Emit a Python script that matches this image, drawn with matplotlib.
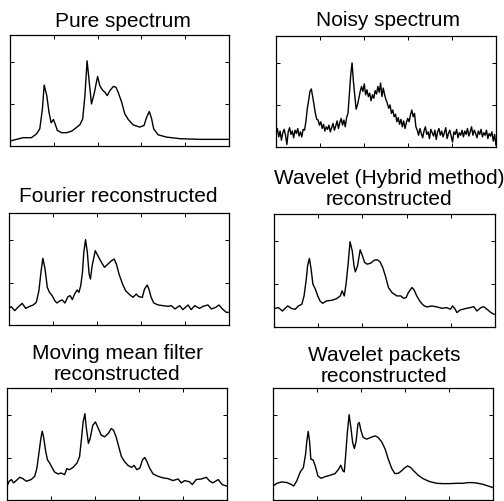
import numpy as np
import matplotlib
matplotlib.use("Agg")
import matplotlib.pyplot as plt

plt.rcParams['font.family'] = ['Liberation Sans', 'DejaVu Sans']

# ---------------- data (channel, intensity) ----------------
pure_x = [0, 30, 49, 61, 68, 74, 78, 84, 89, 94, 99, 103, 108, 118, 129, 141, 152, 160, 166, 171,
          176, 181, 186, 192, 200, 205, 211, 217, 222, 228, 236, 242, 247, 255, 262, 270, 281, 296, 306, 312,
          318, 323, 328, 338, 357, 388, 433, 500]
pure_y = [0.059, 0.099, 0.099, 0.146, 0.205, 0.441, 0.725, 0.599, 0.402, 0.276, 0.315, 0.264, 0.185, 0.158,
          0.158, 0.177, 0.221, 0.256, 0.323, 0.599, 1.013, 0.756, 0.500, 0.619, 0.827, 0.717, 0.666, 0.638,
          0.599, 0.658, 0.709, 0.697, 0.638, 0.520, 0.382, 0.315, 0.252, 0.225, 0.244, 0.343, 0.410, 0.331,
          0.205, 0.134, 0.106, 0.087, 0.079, 0.079]

noisy_y = [0.16, 0.22, 0.12, 0.19, 0.08, 0.17, 0.21, 0.14, 0.03, 0.18, 0.23, 0.15, 0.19, 0.11, 0.20, 0.16,
           0.22, 0.13, 0.18, 0.12, 0.21,
           0.20, 0.30, 0.45, 0.55, 0.66, 0.69, 0.60, 0.50, 0.40, 0.33,
           0.32, 0.26, 0.30, 0.22, 0.27, 0.19, 0.24, 0.21, 0.26, 0.18, 0.23, 0.28, 0.20, 0.25, 0.31, 0.22,
           0.29, 0.34, 0.26, 0.32, 0.24, 0.35,
           0.40, 0.62, 0.85, 1.00, 0.78, 0.62, 0.45, 0.50, 0.58, 0.66,
           0.72, 0.66, 0.75, 0.62, 0.68, 0.60, 0.64, 0.55, 0.62, 0.58, 0.67, 0.63, 0.72, 0.65, 0.76, 0.60,
           0.70, 0.62, 0.56, 0.52,
           0.46, 0.50, 0.40, 0.44, 0.36, 0.39, 0.30, 0.35, 0.27, 0.33, 0.24, 0.31, 0.22, 0.29,
           0.34, 0.30, 0.38, 0.44, 0.36, 0.40, 0.24,
           0.20, 0.14, 0.22, 0.16, 0.11, 0.19, 0.24, 0.15, 0.18, 0.10, 0.21, 0.17, 0.13, 0.20, 0.09, 0.18,
           0.22, 0.14, 0.19, 0.12, 0.17, 0.23, 0.10, 0.16, 0.20, 0.13, 0.06, 0.18, 0.15, 0.21, 0.11, 0.17,
           0.14, 0.20, 0.12, 0.19, 0.15, 0.22, 0.13, 0.18, 0.24, 0.14, 0.20, 0.16, 0.11, 0.19, 0.15, 0.21,
           0.12, 0.17, 0.14, 0.20, 0.10, 0.16, 0.13, 0.18, 0.07, 0.15, 0.02]
noisy_x = np.linspace(0, 500, len(noisy_y))

fourier_x = [0, 5, 13, 20, 30, 38, 47, 55, 62, 68, 73, 77, 82, 87, 92, 98, 104, 109, 115, 121,
             127, 134, 139, 144, 149, 155, 159, 163, 167, 170, 174, 178, 182, 185, 189, 196, 202, 210, 217, 225,
             233, 239, 244, 250, 258, 265, 274, 282, 289, 295, 303, 308, 314, 318, 323, 329, 339, 350, 361, 369,
             377, 388, 395, 407, 414, 422, 433, 441, 452, 460, 470, 477, 485, 494, 500]
fourier_y = [0.196, 0.216, 0.169, 0.208, 0.255, 0.196, 0.220, 0.236, 0.267, 0.405,
             0.640, 0.786, 0.660, 0.444, 0.385, 0.346, 0.287, 0.259, 0.283, 0.295,
             0.259, 0.334, 0.346, 0.299, 0.365, 0.413, 0.385, 0.464, 0.621, 0.857,
             1.006, 0.857, 0.601, 0.542, 0.699, 0.876, 0.817, 0.739, 0.680, 0.719,
             0.758, 0.778, 0.719, 0.601, 0.483, 0.405, 0.358, 0.326, 0.365, 0.334,
             0.326, 0.424, 0.471, 0.424, 0.326, 0.259, 0.236, 0.228, 0.220, 0.228,
             0.189, 0.228, 0.181, 0.236, 0.181, 0.228, 0.196, 0.220, 0.236, 0.189,
             0.208, 0.236, 0.189, 0.149, 0.149]

hybrid_x = [0, 10, 19, 31, 40, 48, 55, 63, 68, 73, 76, 80, 84, 88, 93, 99, 104, 110, 119, 131,
            142, 150, 154, 159, 163, 168, 172, 177, 181, 184, 189, 195, 200, 205, 211, 219, 227, 234, 240, 246,
            252, 259, 267, 278, 287, 293, 299, 304, 312, 317, 323, 331, 338, 346, 357, 369, 380, 391, 399, 404,
            409, 414, 421, 433, 444, 452, 459, 468, 474, 482, 491, 498]
hybrid_y = [0.215, 0.226, 0.187, 0.246, 0.215, 0.207, 0.246, 0.266, 0.363, 0.558,
            0.715, 0.801, 0.676, 0.500, 0.449, 0.363, 0.305, 0.277, 0.305, 0.312,
            0.332, 0.363, 0.422, 0.363, 0.500, 0.754, 0.996, 0.890, 0.715, 0.644,
            0.715, 0.902, 0.832, 0.754, 0.734, 0.746, 0.781, 0.785, 0.761, 0.695,
            0.597, 0.461, 0.402, 0.363, 0.363, 0.336, 0.344, 0.402, 0.461, 0.433,
            0.363, 0.293, 0.254, 0.234, 0.246, 0.234, 0.219, 0.226, 0.207, 0.246,
            0.215, 0.168, 0.199, 0.215, 0.226, 0.238, 0.187, 0.226, 0.238, 0.207,
            0.168, 0.148]

mean_x = [0, 5, 10, 15, 21, 29, 36, 44, 55, 63, 68, 73, 77, 80, 83, 88, 92, 97, 103, 108,
          116, 123, 131, 136, 142, 150, 159, 165, 169, 173, 177, 180, 185, 189, 195, 201, 207, 214, 222, 230,
          237, 242, 248, 255, 260, 267, 275, 283, 289, 295, 302, 308, 313, 318, 324, 332, 343, 355, 366, 377,
          389, 396, 404, 415, 421, 430, 442, 453, 461, 468, 480, 489, 500]
mean_y = [0.163, 0.221, 0.241, 0.202, 0.229, 0.268, 0.252, 0.221, 0.241, 0.280,
          0.377, 0.571, 0.726, 0.811, 0.745, 0.571, 0.474, 0.435, 0.377, 0.330,
          0.307, 0.318, 0.299, 0.369, 0.357, 0.384, 0.435, 0.512, 0.707, 0.920,
          1.017, 0.862, 0.668, 0.726, 0.881, 0.920, 0.850, 0.765, 0.745, 0.784,
          0.842, 0.823, 0.745, 0.609, 0.512, 0.454, 0.408, 0.384, 0.408, 0.357,
          0.377, 0.474, 0.501, 0.454, 0.377, 0.307, 0.280, 0.260, 0.252, 0.229,
          0.248, 0.202, 0.229, 0.214, 0.182, 0.241, 0.248, 0.268, 0.221, 0.202,
          0.241, 0.182, 0.163]

packet_x = [0, 9, 20, 32, 41, 47, 54, 62, 69, 74, 77, 80, 83, 86, 91, 96, 102, 109, 119, 130,
            141, 149, 154, 159, 162, 165, 169, 173, 177, 181, 185, 189, 193, 196, 200, 205, 213, 222, 232, 239,
            247, 255, 262, 270, 277, 285, 292, 300, 306, 313, 320, 330, 341, 356, 372, 387, 402, 417, 432, 443,
            455, 466, 477, 489, 500]
packet_y = [0.165, 0.197, 0.213, 0.205, 0.185, 0.165, 0.225, 0.331, 0.382, 0.540,
            0.697, 0.808, 0.697, 0.481, 0.473, 0.402, 0.284, 0.256, 0.276, 0.292,
            0.311, 0.362, 0.410, 0.343, 0.331, 0.520, 0.796, 1.005, 0.855, 0.678,
            0.607, 0.697, 0.894, 0.914, 0.816, 0.737, 0.717, 0.737, 0.756, 0.737,
            0.686, 0.599, 0.481, 0.370, 0.311, 0.315, 0.343, 0.382, 0.402, 0.382,
            0.343, 0.292, 0.252, 0.217, 0.197, 0.193, 0.193, 0.197, 0.197, 0.205,
            0.205, 0.197, 0.185, 0.165, 0.146]

titles = ["Pure spectrum", "Noisy spectrum", "Fourier reconstructed",
          "Wavelet (Hybrid method)\nreconstructed", "Moving mean filter\nreconstructed",
          "Wavelet packets\nreconstructed"]
xticks = [100, 200, 300, 400]
yticks = [0.5, 1.0]

# ---------------- layout ----------------
W, H = 504, 502
fig = plt.figure(figsize=(W / 100, H / 100), dpi=100)

# axes boxes in pixels: left, top, right, bottom
boxes = [(10, 36, 229, 147), (276, 37, 496, 148),
         (9, 214, 229, 326), (274, 215, 495, 328),
         (7, 389, 227, 501), (273, 389, 493, 501)]
# title: center x, baseline y of last line
title_pos = [(123, 27), (388, 26), (118, 202), (389, 205), (117, 380), (384, 382)]

series = [(pure_x, pure_y), (noisy_x, noisy_y), (fourier_x, fourier_y),
          (hybrid_x, hybrid_y), (mean_x, mean_y), (packet_x, packet_y)]

for (l, t, r, b), (xs, ys), title, (tx, ty) in zip(boxes, series, titles, title_pos):
    ax = fig.add_axes([l / W, 1 - b / H, (r - l) / W, (b - t) / H])
    ax.plot(xs, ys, color='black', lw=1.0)
    ax.set_xlim(0, 500)
    ax.set_ylim(0, 1.32)
    ax.set_xticks(xticks)
    ax.set_yticks(yticks)
    ax.set_xticklabels([])
    ax.set_yticklabels([])
    ax.tick_params(direction='in', length=3, width=0.7, top=True, right=True)
    for s in ax.spines.values():
        s.set_linewidth(0.9)
    fig.text(tx / W, 1 - ty / H, title, ha='center', va='baseline',
             fontsize=15, linespacing=1.1, multialignment='center')

fig.savefig("out.png", dpi=100)
